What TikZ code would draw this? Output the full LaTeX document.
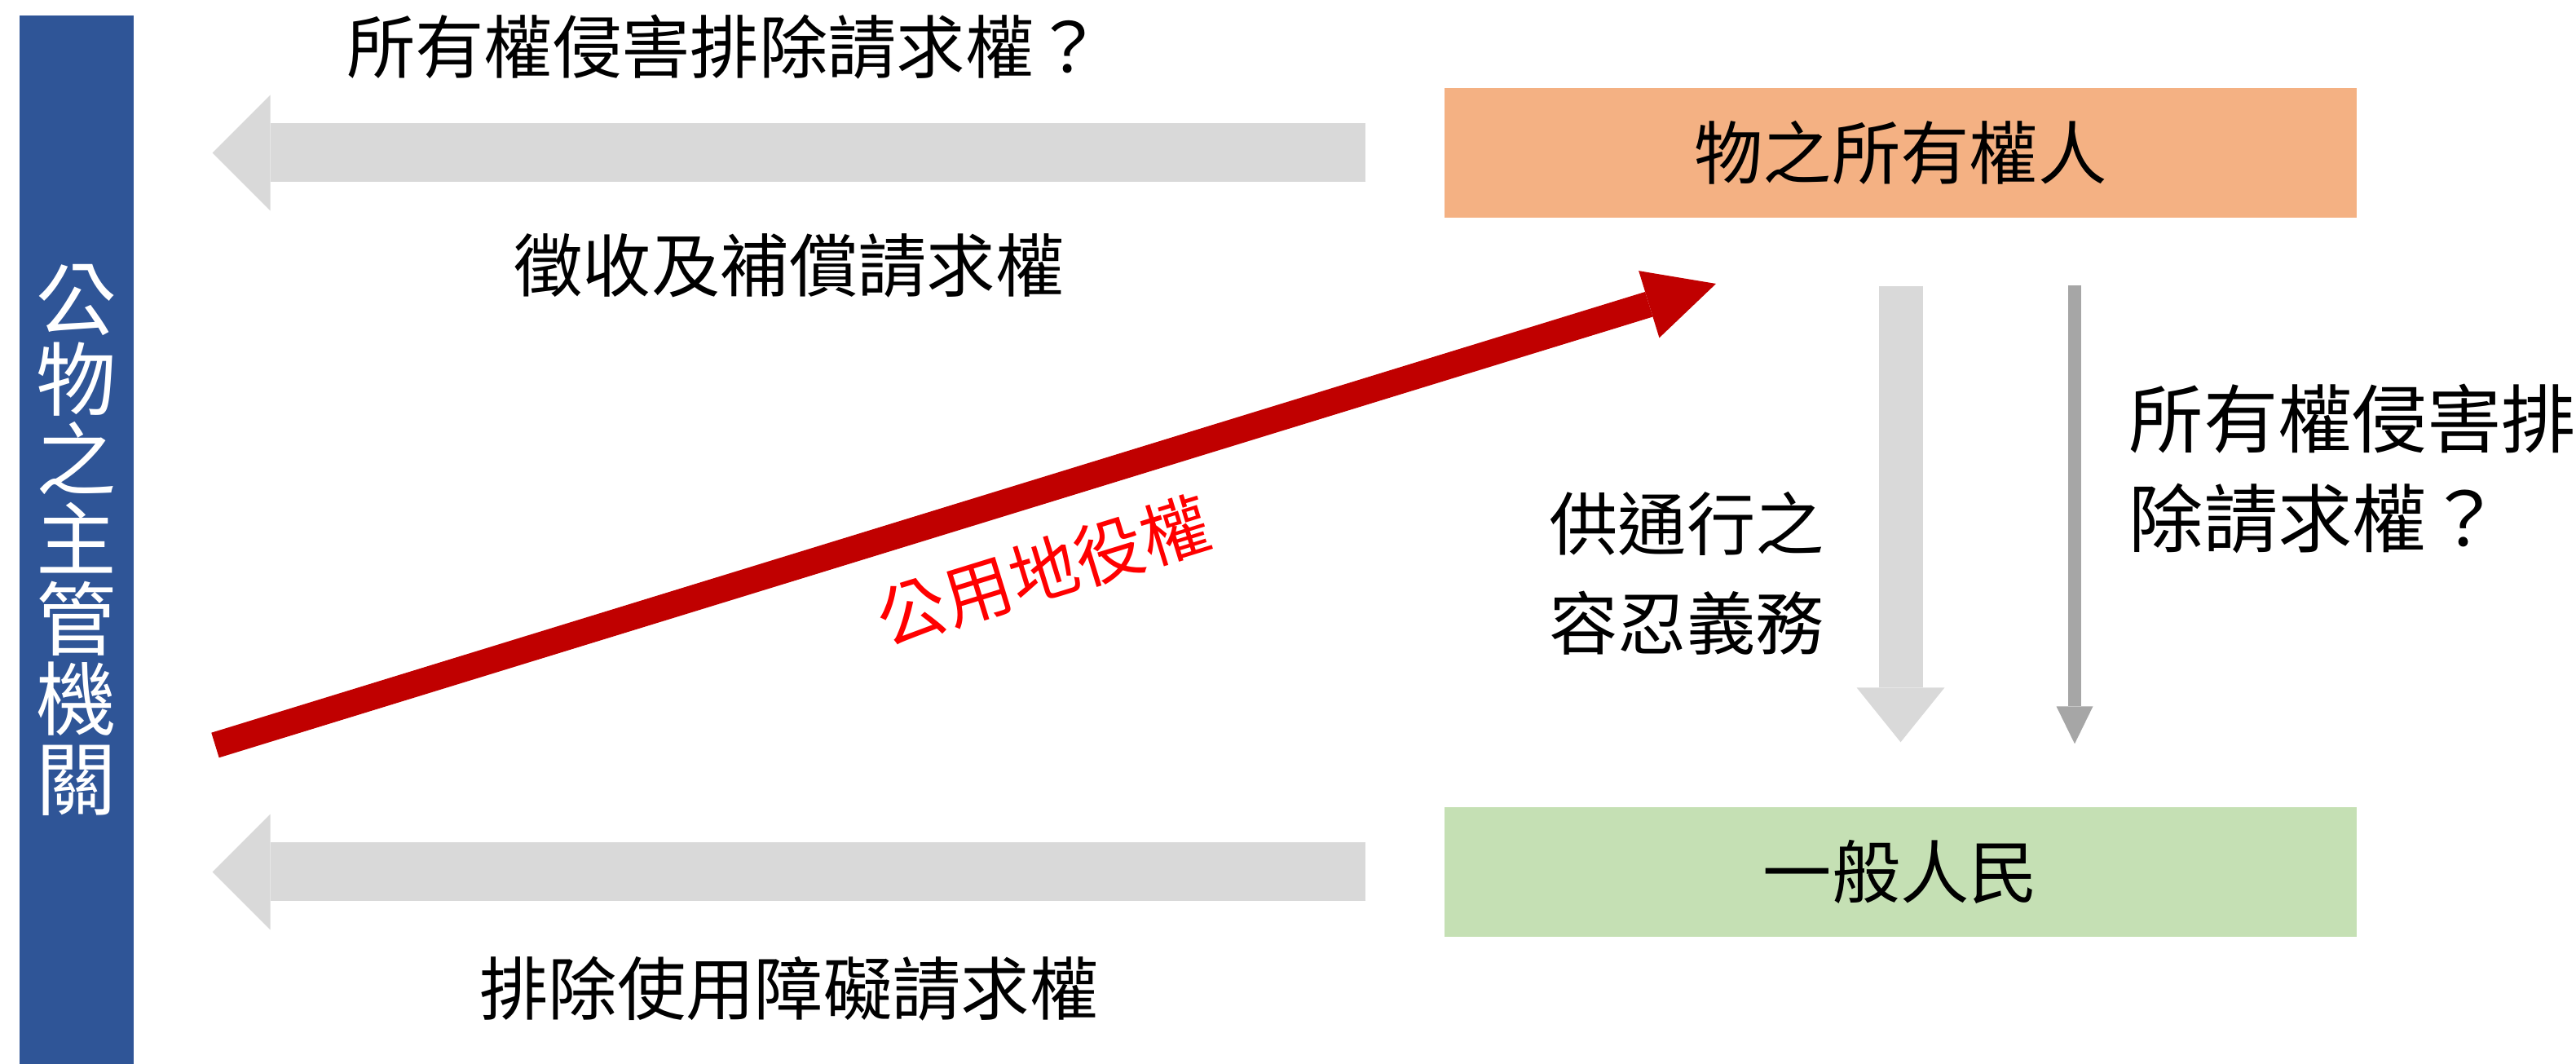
\documentclass[tikz,border=0pt]{standalone}
\usepackage{fontspec}
\setmainfont{Noto Sans CJK TC}
\usetikzlibrary{arrows.meta,positioning,calc}
\definecolor{agencyblue}{HTML}{2F5597}
\definecolor{ownerorange}{HTML}{F4B183}
\definecolor{peoplegreen}{HTML}{C5E0B4}
\definecolor{arrowgray}{HTML}{D9D9D9}
\definecolor{thingray}{HTML}{A6A6A6}
\definecolor{servred}{HTML}{C00000}
\begin{document}
\begin{tikzpicture}[party/.style = {shape = rectangle,
                                    inner sep = 0pt,
                                    minimum width = 11.19cm,
                                    minimum height = 1.59cm,
                                    font = \fontsize{24pt}{28pt}\selectfont},
                    lbl/.style = {inner sep = 0pt,
                                  align = center,
                                  font = \fontsize{24pt}{1.22cm}\selectfont},
                    blockarrow/.style = {draw = arrowgray,
                                         line width = 0.72cm,
                                         -{Triangle[length = 0.71cm, width = 1.42cm, line width = 0pt]}}]
		\useasboundingbox (0,0) rectangle (31.6,13.05);
		\node[fill = agencyblue, minimum width = 1.40cm, minimum height = 12.86cm, inner sep = 0pt,
		      text = white, align = center, font = \fontsize{28pt}{0.98cm}\selectfont] (agency) at (0.94,6.43) {公\\物\\之\\主\\管\\機\\關};
		\node[party, fill = ownerorange] (owner) at (23.315,11.175) {物之所有權人};
		\node[party, fill = peoplegreen] (people) at (23.315,2.355) {一般人民};
		% block arrows towards the agency
		\coordinate (ownertail) at ($(owner.west)+(-0.96,0)$);
		\coordinate (ownertip) at ($(agency.east |- owner.west)+(0.96,0)$);
		\coordinate (peopletail) at ($(people.west)+(-0.96,0)$);
		\coordinate (peopletip) at ($(agency.east |- people.west)+(0.96,0)$);
		\draw[blockarrow] (ownertail) -- (ownertip);
		\draw[blockarrow] (peopletail) -- (peopletip);
		% owner to people
		\draw[draw = arrowgray, line width = 0.54cm, -{Triangle[length = 0.67cm, width = 1.08cm, line width = 0pt]}]
			($(owner.south)+(0,-0.83)$) -- ($(people.north)+(0,0.79)$);
		\draw[draw = thingray, line width = 0.16cm, -{Triangle[length = 0.46cm, width = 0.45cm, line width = 0pt]}]
			($(owner.south)+(2.135,-0.82)$) -- ($(people.north)+(2.135,0.77)$);
		% servitude
		\coordinate (servstart) at (2.64,3.91);
		\coordinate (servend) at (21.05,9.57);
		\draw[draw = servred, line width = 0.32cm, -{Triangle[length = 0.86cm, width = 0.86cm, line width = 0pt]}] (servstart) -- (servend);
		\node[lbl, text = red, rotate = 17.1] (servlabel) at (12.80,6.05) {公用地役權};
		% labels
		\node[lbl] (ownerq) at (8.89,12.475) {所有權侵害排除請求權？};
		\node[lbl] (comp) at (9.68,9.795) {徵收及補償請求權};
		\node[lbl] (remove) at (9.68,0.92) {排除使用障礙請求權};
		\node[lbl] (duty) at (20.69,6.02) {供通行之\\容忍義務};
		\node[lbl, anchor = west, align = left, font = \fontsize{26pt}{1.22cm}\selectfont] (peopleq) at (26.11,7.30) {所有權侵害排\\除請求權？};
	\end{tikzpicture}
\end{document}
